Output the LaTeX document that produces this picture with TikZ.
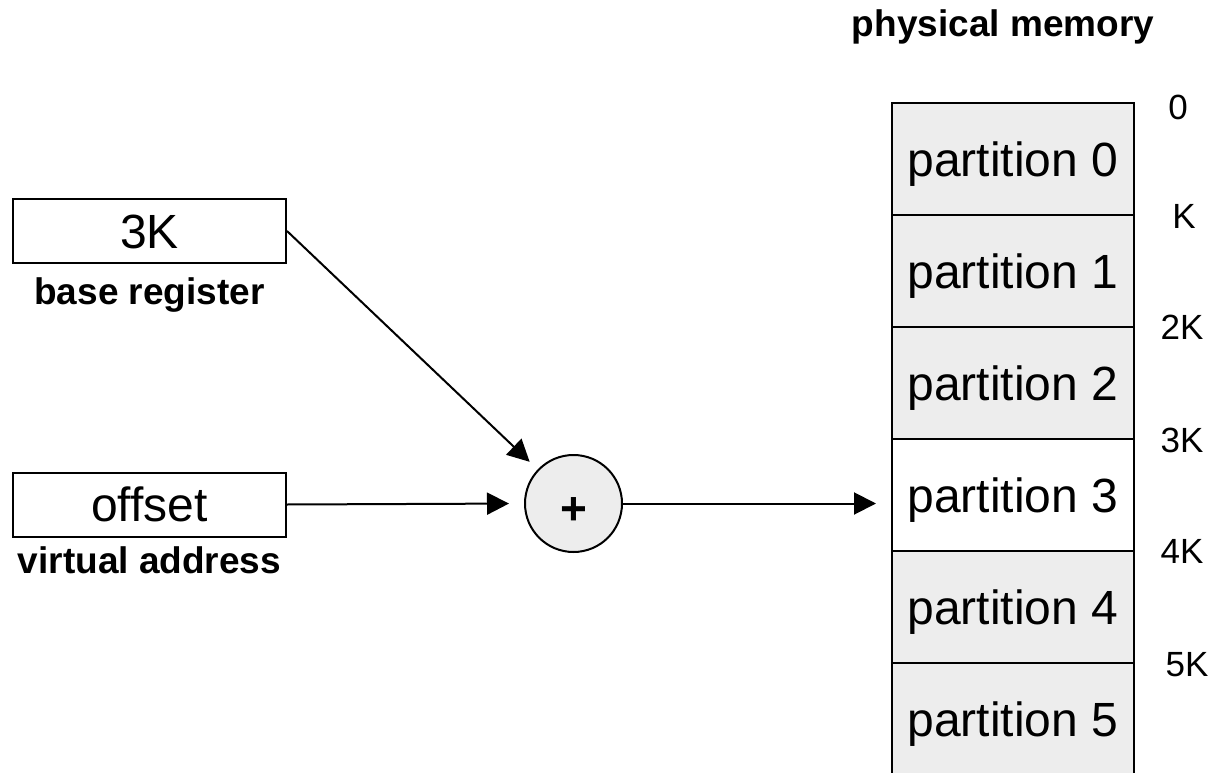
\documentclass[tikz,border=0pt]{standalone}
\usepackage{fontspec}
\setmainfont{Liberation Sans}
\usetikzlibrary{arrows.meta}
\definecolor{cellgray}{HTML}{EDEDED}
\begin{document}
\begin{tikzpicture}[x=1pt,y=-1pt,
  big/.style={font=\fontsize{48}{56}\selectfont, text height=34.4pt, text depth=0pt},
  regbox/.style={big, draw, line width=2pt, minimum width=273pt, minimum height=64pt, inner sep=0pt},
  cell/.style={big, draw, line width=2pt, fill=cellgray, minimum width=242pt, minimum height=112pt, inner sep=0pt},
  freecell/.style={cell, fill=white},
  adder/.style={font=\bfseries\fontsize{46}{54}\selectfont, text height=41pt, text depth=0pt, draw, line width=2pt, fill=cellgray, circle, minimum size=97pt, inner sep=0pt},
  caption/.style={font=\bfseries\fontsize{37}{44}\selectfont, inner sep=0pt, anchor=base},
  addr/.style={font=\fontsize{35}{42}\selectfont, text height=25pt, text depth=0pt, inner sep=0pt},
  conn/.style={line width=2pt, -{Triangle[length=22pt,width=22pt]}},
]
\useasboundingbox (0,0) rectangle (1213,773);
\clip (0,0) rectangle (1213,773);

% registers on the left
\node[regbox] (base) at (149.5,231) {3K};
\node[caption] (basecap) at (149.5,304) {base register};
\node[regbox] (offset) at (149.5,504.5) {offset};
\node[caption] (virtcap) at (149.5,573) {virtual address};

% adder
\node[adder] (sum) at (573.5,503.5) {+};

% physical memory
\node[caption] (physcap) at (1003,37) {physical memory};
\node[cell] (p0) at (1013,159) {partition 0};
\node[cell] (p1) at (1013,271) {partition 1};
\node[cell] (p2) at (1013,383) {partition 2};
\node[freecell] (p3) at (1013,495) {partition 3};
\node[cell] (p4) at (1013,607) {partition 4};
\node[cell] (p5) at (1013,719) {partition 5};

% partition boundaries
\node[addr] (a0) at (1178,107) {0};
\node[addr] (a1) at (1184,216) {K};
\node[addr] (a2) at (1182,327) {2K};
\node[addr] (a3) at (1182,440) {3K};
\node[addr] (a4) at (1182,551) {4K};
\node[addr] (a5) at (1187,664) {5K};

% connectors
\draw[conn, shorten >=11pt] (base.east) -- (sum);
\draw[conn, shorten >=15pt] (offset.east) -- (sum.west);
\draw[conn, shorten >=15pt] (sum.east) -- (sum.east -| p3.west);
\end{tikzpicture}
\end{document}
